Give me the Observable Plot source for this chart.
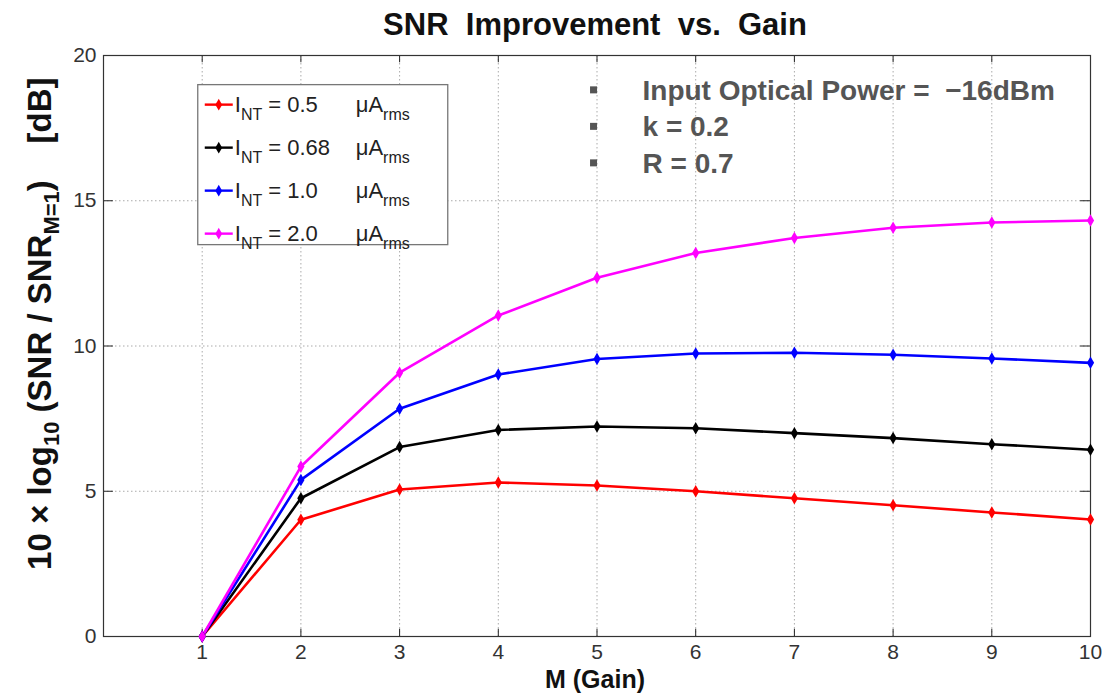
<!DOCTYPE html>
<html><head><meta charset="utf-8">
<script src="https://cdn.jsdelivr.net/npm/d3@7"></script>
<script src="https://cdn.jsdelivr.net/npm/@observablehq/plot@0.6"></script>
<style>body{margin:0;background:#fff;font-family:"Liberation Sans",Arial,sans-serif}</style>
</head><body><div id="chart"></div>
<script>
const gains = [1, 2, 3, 4, 5, 6, 7, 8, 9, 10];
const seriesNames = ["0.5", "0.68", "1.0", "2.0"];
const seriesColors = ["#ff0000", "#000000", "#0000ff", "#ff00ff"];
const int05 = [0, 4.02, 5.06, 5.30, 5.20, 5.00, 4.76, 4.52, 4.27, 4.03];
const int068 = [0, 4.76, 6.52, 7.11, 7.23, 7.17, 7.00, 6.83, 6.62, 6.43];
const int10 = [0, 5.39, 7.84, 9.02, 9.55, 9.74, 9.77, 9.70, 9.57, 9.42];
const int20 = [0, 5.85, 9.08, 11.05, 12.35, 13.20, 13.72, 14.07, 14.25, 14.32];
const xTicks = [1, 2, 3, 4, 5, 6, 7, 8, 9, 10];
const yTicks = [0, 5, 10, 15, 20];
const notes = ["Input Optical Power =  \u221216dBm", "k = 0.2", "R = 0.7"];

const allSeries = [int05, int068, int10, int20];
const data = [];
allSeries.forEach((vals, s) => vals.forEach((v, i) => data.push({M: gains[i], snr: v, series: seriesNames[s]})));

const W = 1107, H = 694;
const plot = Plot.plot({
  width: W, height: H,
  marginLeft: 103, marginRight: 17, marginTop: 55, marginBottom: 58,
  style: {fontFamily: "'Liberation Sans', Arial, sans-serif", background: "#fff", fontSize: "20px"},
  x: {domain: [0, 10], ticks: xTicks, label: null},
  y: {domain: [0, 20], ticks: yTicks, label: null},
  color: {domain: seriesNames, range: seriesColors},
  marks: [
    Plot.ruleX(xTicks, {x: d => d, stroke: "#aaa", strokeDasharray: "1.5,2.5"}),
    Plot.ruleY([5, 10, 15], {y: d => d, stroke: "#aaa", strokeDasharray: "1.5,2.5"}),
    Plot.ruleX(xTicks, {x: d => d, y1: 0, y2: 0.25, stroke: "#222"}),
    Plot.ruleX(xTicks, {x: d => d, y1: 19.75, y2: 20, stroke: "#222"}),
    Plot.ruleY(yTicks, {y: d => d, x1: 0, x2: 0.1, stroke: "#222"}),
    Plot.ruleY(yTicks, {y: d => d, x1: 9.9, x2: 10, stroke: "#222"}),
    Plot.frame({stroke: "#333", strokeWidth: 1.2}),
    Plot.axisX(xTicks, {tickSize: 0, tickPadding: 8, fontSize: 21, fill: "#333", label: null}),
    Plot.axisY(yTicks, {tickSize: 0, tickPadding: 7, fontSize: 21, fill: "#333", label: null}),
    Plot.line(data, {x: "M", y: "snr", z: "series", stroke: "series", strokeWidth: 2.6}),
    Plot.dot(data, {x: "M", y: "snr", fill: "series", symbol: "diamond", r: 3.8}),
    Plot.text(["SNR  Improvement  vs.  Gain"], {frameAnchor: "top", lineAnchor: "middle", dx: -2, dy: -30, fontSize: 31, fontWeight: "bold", fill: "#111"}),
    Plot.text(["M (Gain)"], {frameAnchor: "bottom", lineAnchor: "middle", dx: -2, dy: 43, fontSize: 25, fontWeight: "bold", fill: "#111"})
  ]
});
document.getElementById("chart").appendChild(plot);

const svg = d3.select(plot);
const xs = plot.scale("x"), ys = plot.scale("y");
const FONT = "'Liberation Sans', Arial, sans-serif";

// Y axis label with subscripts
const yl = svg.append("text")
  .attr("transform", `translate(51,${ys.apply(10.75)}) rotate(-90)`)
  .attr("text-anchor", "middle").attr("font-family", FONT).attr("xml:space", "preserve")
  .attr("font-size", 33).attr("font-weight", "bold").attr("fill", "#111");
yl.append("tspan").text("10 \u00d7 log");
yl.append("tspan").attr("font-size", 22).attr("dy", 8).text("10");
yl.append("tspan").attr("dy", -8).text(" (SNR / SNR");
yl.append("tspan").attr("font-size", 22).attr("dy", 8).text("M=1");
yl.append("tspan").attr("dy", -8).text(")    [dB]");

// Legend box
const lgX = xs.apply(0.96), lgY = ys.apply(18.98);
const lg = svg.append("g").attr("font-family", FONT).attr("text-anchor", "start");
lg.append("rect").attr("x", lgX).attr("y", lgY).attr("width", 250).attr("height", 160)
  .attr("fill", "#fff").attr("stroke", "#777").attr("stroke-width", 1.3);
seriesNames.forEach((name, i) => {
  const cy = lgY + 20 + i * 43;
  lg.append("line").attr("x1", lgX + 7).attr("x2", lgX + 35).attr("y1", cy).attr("y2", cy)
    .attr("stroke", seriesColors[i]).attr("stroke-width", 2.4);
  lg.append("path").attr("d", d3.symbol(d3.symbolDiamond, 40)()).attr("transform", `translate(${lgX + 21},${cy})`)
    .attr("fill", seriesColors[i]);
  const t = lg.append("text").attr("x", lgX + 37).attr("y", cy + 7).attr("font-size", 22).attr("fill", "#222");
  t.append("tspan").text("I");
  t.append("tspan").attr("font-size", 16).attr("dy", 8).text("NT");
  t.append("tspan").attr("dy", -8).text(" = " + name);
  const u = lg.append("text").attr("x", lgX + 158).attr("y", cy + 7).attr("font-size", 22).attr("fill", "#222");
  u.append("tspan").text("\u03bcA");
  u.append("tspan").attr("font-size", 16).attr("dy", 8).text("rms");
});

// Annotation notes
const nx = xs.apply(4.97), ny0 = ys.apply(18.8);
const ng = svg.append("g").attr("font-family", FONT).attr("text-anchor", "start");
notes.forEach((n, i) => {
  const cy = ny0 + i * 36.5;
  ng.append("rect").attr("x", nx - 3.5).attr("y", cy - 3.5).attr("width", 7).attr("height", 7).attr("fill", "#555");
  ng.append("text").attr("x", nx + 49).attr("y", cy + 10)
    .attr("font-size", 28).attr("font-weight", "bold").attr("fill", "#555").attr("xml:space", "preserve").text(n);
});
</script></body></html>
